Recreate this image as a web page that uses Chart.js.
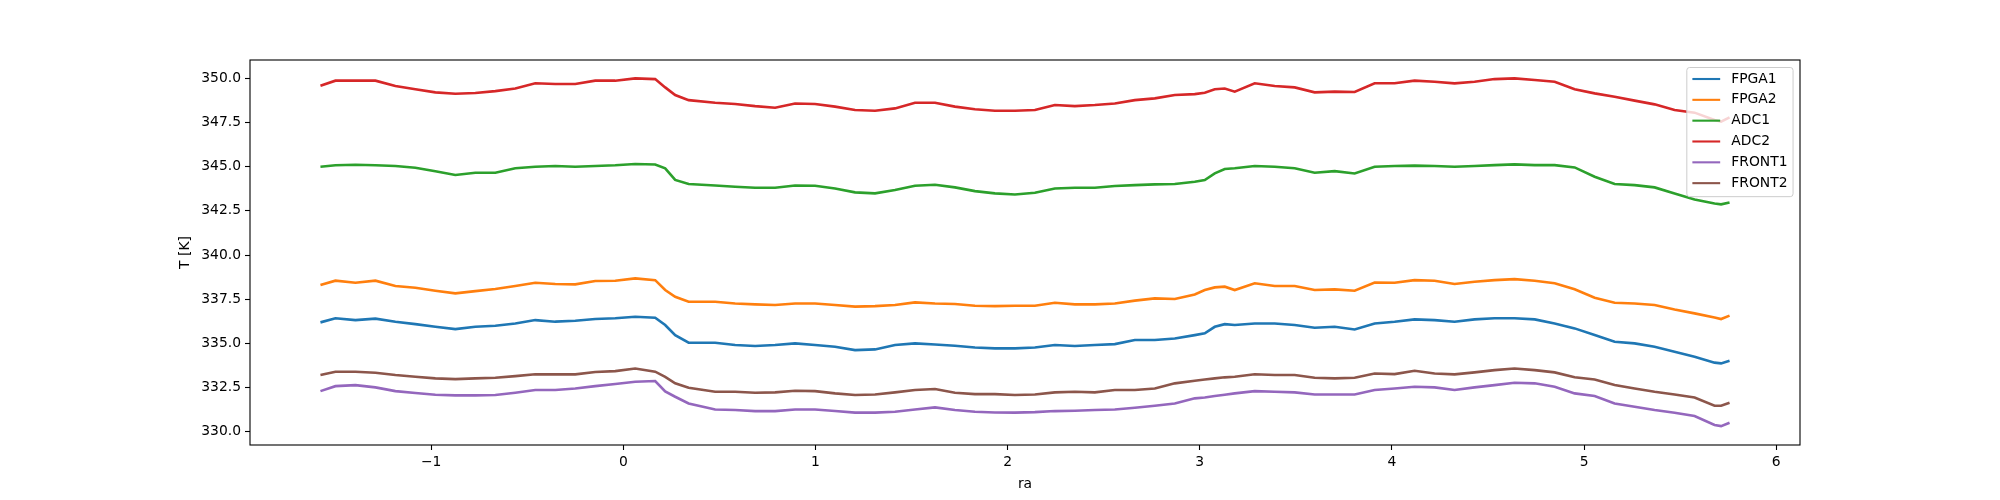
<!DOCTYPE html>
<html><head><meta charset="utf-8">
<script src="https://cdn.jsdelivr.net/npm/chart.js@4.4.0/dist/chart.umd.min.js"></script>
<style>html,body{margin:0;padding:0;background:#fff;}canvas{display:block;}</style>
</head><body>
<canvas id="c" width="2000" height="500"></canvas>
<script>
const ra = [-1.576,-1.498,-1.394,-1.290,-1.186,-1.082,-0.978,-0.874,-0.770,-0.666,-0.562,-0.458,-0.354,
-0.250,-0.146,-0.042,0.062,0.166,0.218,0.270,0.340,0.478,0.582,0.686,0.790,0.894,
0.998,1.102,1.206,1.310,1.414,1.518,1.622,1.726,1.830,1.934,2.038,2.142,
2.246,2.350,2.454,2.558,2.662,2.766,2.870,2.974,3.026,3.078,3.130,3.182,3.286,3.390,
3.494,3.598,3.702,3.806,3.910,4.014,4.118,4.222,4.326,4.430,4.534,4.638,
4.743,4.847,4.951,5.055,5.159,5.263,5.367,5.471,5.575,5.679,5.713,5.757];

const fpga1 = [336.19,336.42,336.32,336.40,336.23,336.09,335.94,335.81,335.94,336.00,336.13,336.32,336.23,
336.28,336.38,336.42,336.51,336.45,336.04,335.47,335.04,335.04,334.91,334.85,334.91,335.00,
334.91,334.81,334.62,334.66,334.91,335.00,334.94,334.87,334.77,334.72,334.72,334.77,
334.91,334.85,334.91,334.96,335.19,335.19,335.28,335.47,335.57,335.94,336.09,336.04,336.13,336.13,
336.04,335.89,335.94,335.79,336.13,336.23,336.36,336.32,336.23,336.36,336.42,336.42,
336.36,336.13,335.85,335.47,335.09,335.00,334.81,334.53,334.25,333.91,333.87,334.02];

const fpga2 = [338.30,338.55,338.43,338.55,338.25,338.15,337.98,337.83,337.96,338.08,338.25,338.43,338.36,
338.34,338.53,338.55,338.68,338.58,338.02,337.64,337.36,337.36,337.26,337.21,337.17,337.26,
337.26,337.17,337.08,337.11,337.17,337.32,337.26,337.23,337.13,337.11,337.13,337.13,
337.30,337.21,337.21,337.26,337.42,337.55,337.51,337.77,338.02,338.17,338.21,338.02,338.40,338.25,
338.25,338.02,338.06,337.98,338.45,338.43,338.58,338.55,338.36,338.49,338.58,338.64,
338.55,338.40,338.06,337.58,337.30,337.26,337.17,336.92,336.70,336.47,336.38,336.57];

const adc1 = [345.00,345.08,345.11,345.08,345.04,344.94,344.74,344.53,344.66,344.66,344.91,345.00,345.04,
345.00,345.04,345.08,345.15,345.13,344.91,344.25,344.02,343.94,343.87,343.81,343.81,343.94,
343.92,343.77,343.55,343.49,343.68,343.92,343.98,343.83,343.62,343.49,343.43,343.53,
343.77,343.81,343.81,343.91,343.96,344.00,344.02,344.15,344.25,344.62,344.87,344.91,345.04,345.00,
344.91,344.66,344.75,344.62,345.00,345.04,345.06,345.04,345.00,345.04,345.09,345.13,
345.09,345.09,344.96,344.43,344.02,343.96,343.83,343.49,343.15,342.92,342.87,342.98];

const adc2 = [349.58,349.87,349.87,349.87,349.57,349.38,349.21,349.13,349.17,349.28,349.43,349.72,349.68,
349.68,349.87,349.87,350.00,349.96,349.49,349.06,348.77,348.62,348.55,348.43,348.34,348.58,
348.55,348.40,348.21,348.17,348.30,348.62,348.62,348.40,348.25,348.17,348.17,348.21,
348.49,348.43,348.49,348.58,348.77,348.87,349.06,349.11,349.19,349.38,349.43,349.25,349.72,349.57,
349.49,349.21,349.25,349.23,349.72,349.72,349.87,349.81,349.72,349.81,349.96,350.00,
349.91,349.81,349.38,349.15,348.96,348.74,348.53,348.21,348.06,347.64,347.55,347.79];

const front1 = [332.30,332.58,332.64,332.51,332.30,332.19,332.09,332.06,332.06,332.08,332.21,332.36,332.36,
332.45,332.58,332.70,332.83,332.87,332.28,331.98,331.60,331.26,331.23,331.17,331.17,331.26,
331.26,331.17,331.08,331.08,331.13,331.26,331.38,331.23,331.13,331.09,331.08,331.11,
331.17,331.19,331.23,331.26,331.36,331.47,331.60,331.89,331.94,332.02,332.09,332.17,332.30,332.26,
332.23,332.11,332.11,332.11,332.36,332.45,332.55,332.51,332.36,332.51,332.64,332.77,
332.74,332.55,332.17,332.02,331.60,331.42,331.23,331.08,330.89,330.38,330.32,330.51];

const front2 = [333.21,333.40,333.40,333.34,333.21,333.11,333.02,332.98,333.02,333.06,333.15,333.25,333.25,
333.25,333.38,333.43,333.58,333.40,333.11,332.74,332.49,332.26,332.26,332.21,332.23,332.32,
332.30,332.17,332.08,332.11,332.23,332.36,332.42,332.21,332.13,332.13,332.08,332.11,
332.23,332.26,332.23,332.36,332.36,332.45,332.74,332.89,332.96,333.02,333.08,333.11,333.25,333.21,
333.21,333.06,333.02,333.06,333.30,333.26,333.45,333.30,333.25,333.36,333.49,333.58,
333.49,333.36,333.08,332.96,332.64,332.45,332.26,332.11,331.94,331.47,331.47,331.64];

const seriesNames = ['FPGA1','FPGA2','ADC1','ADC2','FRONT1','FRONT2'];
const seriesValues = [fpga1, fpga2, adc1, adc2, front1, front2];
const seriesColors = ['#1f77b4','#ff7f0e','#2ca02c','#d62728','#9467bd','#8c564b'];
const xTicks = [-1,0,1,2,3,4,5,6];
const yTicks = [330,332.5,335,337.5,340,342.5,345,347.5,350];
const xLabel = 'ra';
const yLabel = 'T [K]';

const FONT = '"DejaVu Sans", sans-serif';
const FS = 13.89;

const xMin = Math.min(...ra), xMax = Math.max(...ra);
const xr = xMax - xMin;

const framePlugin = {
  id: 'frameLegend',
  afterDatasetsDraw(chart) {
    const {ctx, chartArea: a} = chart;
    ctx.save();
    ctx.strokeStyle = '#000';
    ctx.lineWidth = 1.1;
    ctx.strokeRect(a.left, a.top, a.right - a.left, a.bottom - a.top);

    // legend (upper right)
    ctx.font = FS + 'px ' + FONT;
    const ds = chart.data.datasets;
    let maxW = 0;
    ds.forEach(d => { maxW = Math.max(maxW, ctx.measureText(d.label).width); });
    const bpad = 5.56, hlen = 27.8, htp = 11.1, lsp = 6.94;
    const w = bpad*2 + hlen + htp + maxW;
    const h = bpad*2 + ds.length*FS + (ds.length-1)*lsp;
    const right = a.right - 6.94, top = a.top + 7.5;
    const left = right - w;
    const r = 2.8;
    ctx.beginPath();
    ctx.moveTo(left + r, top);
    ctx.lineTo(right - r, top); ctx.quadraticCurveTo(right, top, right, top + r);
    ctx.lineTo(right, top + h - r); ctx.quadraticCurveTo(right, top + h, right - r, top + h);
    ctx.lineTo(left + r, top + h); ctx.quadraticCurveTo(left, top + h, left, top + h - r);
    ctx.lineTo(left, top + r); ctx.quadraticCurveTo(left, top, left + r, top);
    ctx.closePath();
    ctx.fillStyle = 'rgba(255,255,255,0.8)';
    ctx.fill();
    ctx.strokeStyle = '#cccccc';
    ctx.lineWidth = 1;
    ctx.stroke();
    ds.forEach((d, i) => {
      const y = top + bpad + i*(FS + lsp) + FS/2 - 1;
      const hx = left + bpad;
      ctx.beginPath();
      ctx.strokeStyle = d.borderColor;
      ctx.lineWidth = 2.1;
      ctx.moveTo(hx, y); ctx.lineTo(hx + hlen, y);
      ctx.stroke();
      ctx.fillStyle = '#000';
      ctx.textBaseline = 'middle';
      ctx.textAlign = 'left';
      ctx.fillText(d.label, hx + hlen + htp, y);
    });
    ctx.restore();
  }
};

new Chart(document.getElementById('c'), {
  type: 'line',
  data: {
    datasets: seriesNames.map((n, k) => ({
      label: n,
      data: ra.map((x, i) => ({x: x, y: seriesValues[k][i]})),
      borderColor: seriesColors[k],
      backgroundColor: seriesColors[k],
      borderWidth: 2.6,
      pointRadius: 0,
      tension: 0,
      fill: false
    }))
  },
  options: {
    responsive: false,
    animation: false,
    devicePixelRatio: 1,
    layout: { padding: { top: 60, right: 200, left: 0, bottom: 0 } },
    plugins: { legend: { display: false }, tooltip: { enabled: false } },
    scales: {
      x: {
        type: 'linear',
        min: xMin - 0.05*xr,
        max: xMax + 0.05*xr,
        afterBuildTicks(s) { s.ticks = xTicks.map(v => ({value: v})); },
        afterFit(s) { s.height = 55; },
        ticks: {
          autoSkip: false, maxRotation: 0, padding: 4,
          color: '#000', font: { family: FONT, size: FS },
          callback: v => v < 0 ? '\u2212' + Math.abs(v) : String(v)
        },
        grid: { display: true, drawOnChartArea: false, drawTicks: true, tickLength: 5, color: '#000', tickWidth: 1.1 },
        border: { display: false },
        title: { display: true, text: xLabel, color: '#000', font: { family: FONT, size: FS }, padding: { top: 0, bottom: 7 } }
      },
      y: {
        type: 'linear',
        min: 329.25,
        max: 351.04,
        afterBuildTicks(s) { s.ticks = yTicks.map(v => ({value: v})); },
        afterFit(s) { s.width = 250; },
        ticks: {
          autoSkip: false, padding: 4,
          color: '#000', font: { family: FONT, size: FS },
          callback: v => Number(v).toFixed(1)
        },
        grid: { display: true, drawOnChartArea: false, drawTicks: true, tickLength: 5, color: '#000', tickWidth: 1.1 },
        border: { display: false },
        title: { display: true, text: yLabel, color: '#000', font: { family: FONT, size: FS }, padding: { top: 177.5, bottom: 0 } }
      }
    }
  },
  plugins: [framePlugin]
});
</script>
</body></html>
